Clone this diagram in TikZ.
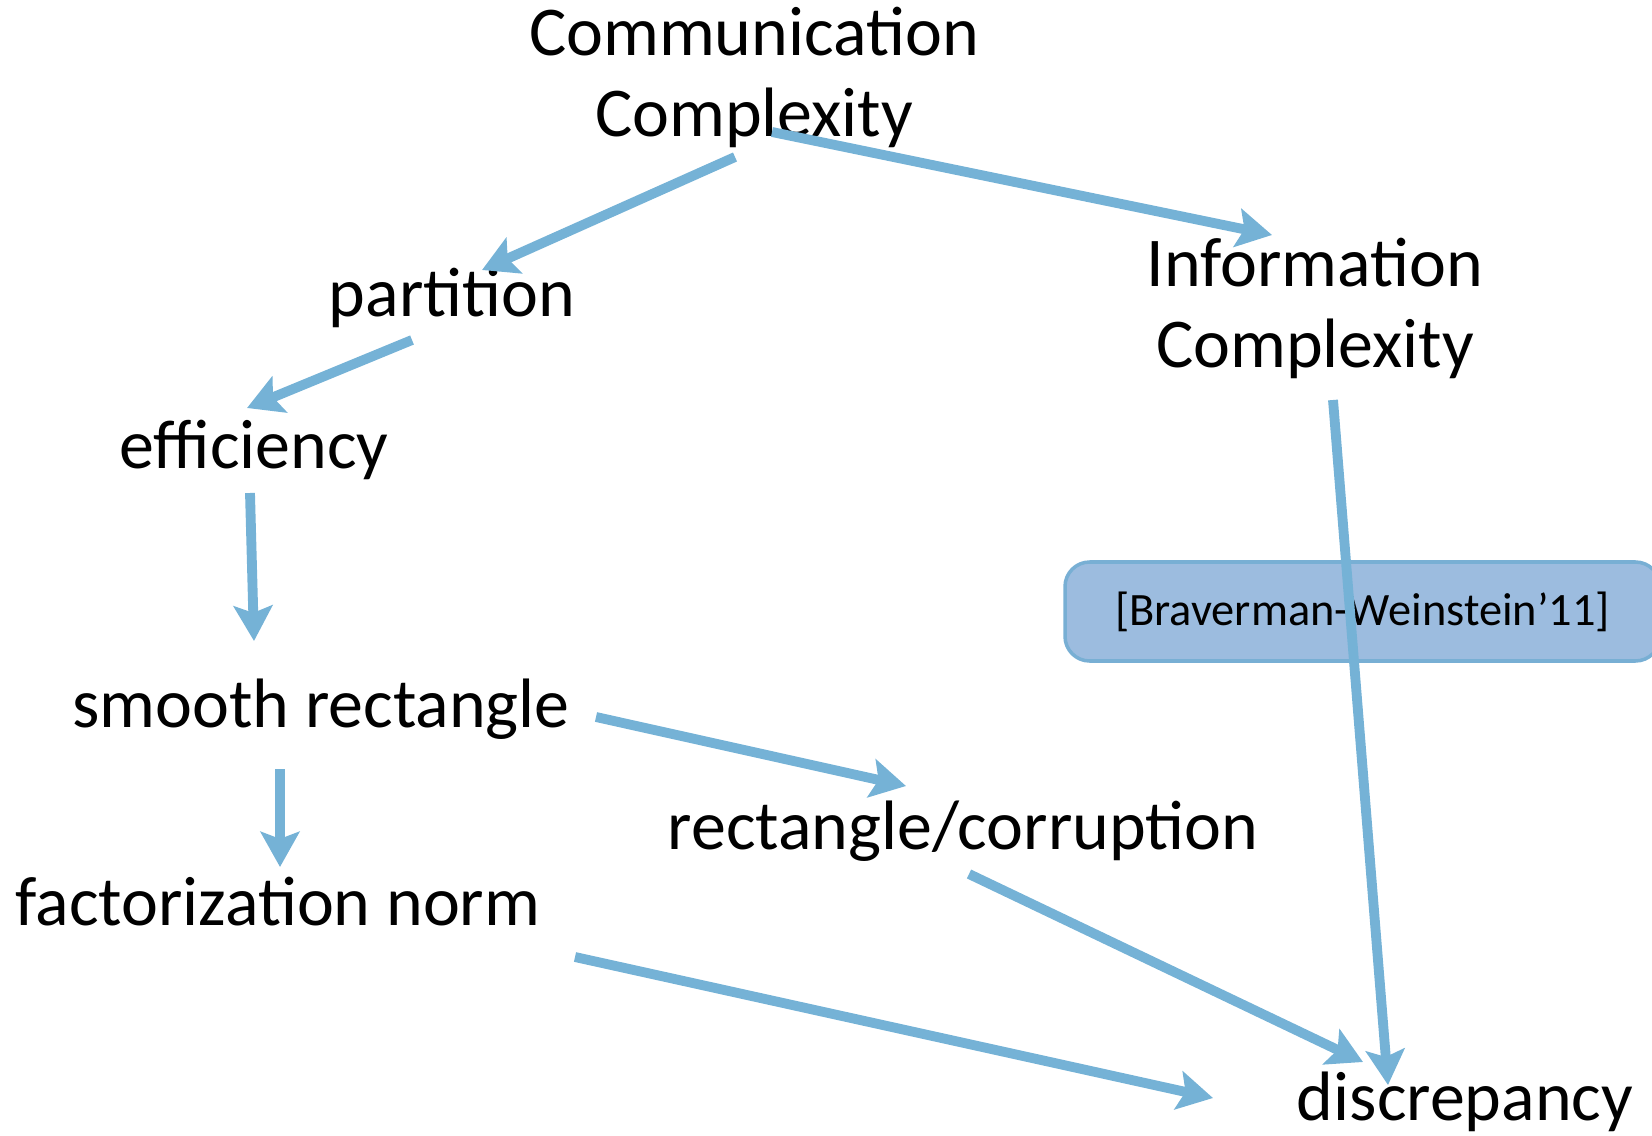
\documentclass[tikz,border=0pt]{standalone}
\usepackage{fontspec}
\setmainfont{Carlito}
\usetikzlibrary{arrows.meta}
\definecolor{edge_blue}{RGB}{117,178,214}
\definecolor{box_fill}{RGB}{156,188,223}
\definecolor{box_edge}{RGB}{120,175,212}

\begin{document}
\begin{tikzpicture}[->,>={Stealth[length=10pt,width=11pt,inset=2pt]}]
    \tikzstyle{topic}=[text=black, inner sep=0pt, anchor=base, font=\fontsize{19.9}{23.3}\selectfont]
    \tikzstyle{twoline}=[style=topic, align=center]
    \tikzstyle{cite}=[draw=box_edge, fill=box_fill, line width=1pt, rounded corners=7pt, minimum width=5.95cm, minimum height=0.99cm, text=black, font=\fontsize{13.2}{15.8}\selectfont]
    \tikzstyle{link}=[draw=edge_blue, line width=2.8pt]

    \useasboundingbox (0,0) rectangle (16.52,-11.35);
    \clip (0,0) rectangle (16.52,-11.35);

    % two-line nodes: base sits on the second line
    \node[twoline] (cc)     at (7.54,-1.37)   {Communication\\Complexity};
    \node[topic]   (part)   at (4.52,-3.17)   {partition};
    \node[topic]   (eff)    at (2.54,-4.68)   {efficiency};
    \node[topic]   (smooth) at (3.21,-7.27)   {smooth rectangle};
    \node[topic]   (fact)   at (2.78,-9.25)   {factorization norm};
    \node[topic]   (rect)   at (9.63,-8.49)   {rectangle/corruption};
    \node[twoline] (info)   at (13.15,-3.68)  {Information\\Complexity};
    \node[topic]   (disc)   at (14.65,-11.20) {discrepancy};
    \node[cite]    (bw)     at (13.625,-6.115) {[Braverman-Weinstein’11]};

    \path
     ([shift={(-0.19,-0.20)}]cc.base) edge[link] ([shift={(0.30,0.47)}]part.base)
     ([shift={(0.18,0.05)}]cc.base) edge[link] ([shift={(-0.43,1.33)}]info.base)
     ([shift={(-0.40,-0.23)}]part.base) edge[link] ([shift={(-0.07,0.60)}]eff.base)
     ([shift={(-0.04,-0.25)}]eff.base) edge[link] ([shift={(-0.67,0.86)}]smooth.base)
     ([shift={(-0.41,-0.42)}]smooth.base) edge[link] ([shift={(0.02,0.58)}]fact.base)
     ([shift={(2.75,0.10)}]smooth.base) edge[link] ([shift={(-0.57,0.63)}]rect.base)
     ([shift={(0.06,-0.25)}]rect.base) edge[link] ([shift={(-1.02,0.58)}]disc.base)
     ([shift={(0.18,-0.32)}]info.base) edge[link] ([shift={(-0.77,0.35)}]disc.base)
     ([shift={(2.97,-0.32)}]fact.base) edge[link] ([shift={(-2.52,0.22)}]disc.base)
     ;
\end{tikzpicture}
\end{document}
